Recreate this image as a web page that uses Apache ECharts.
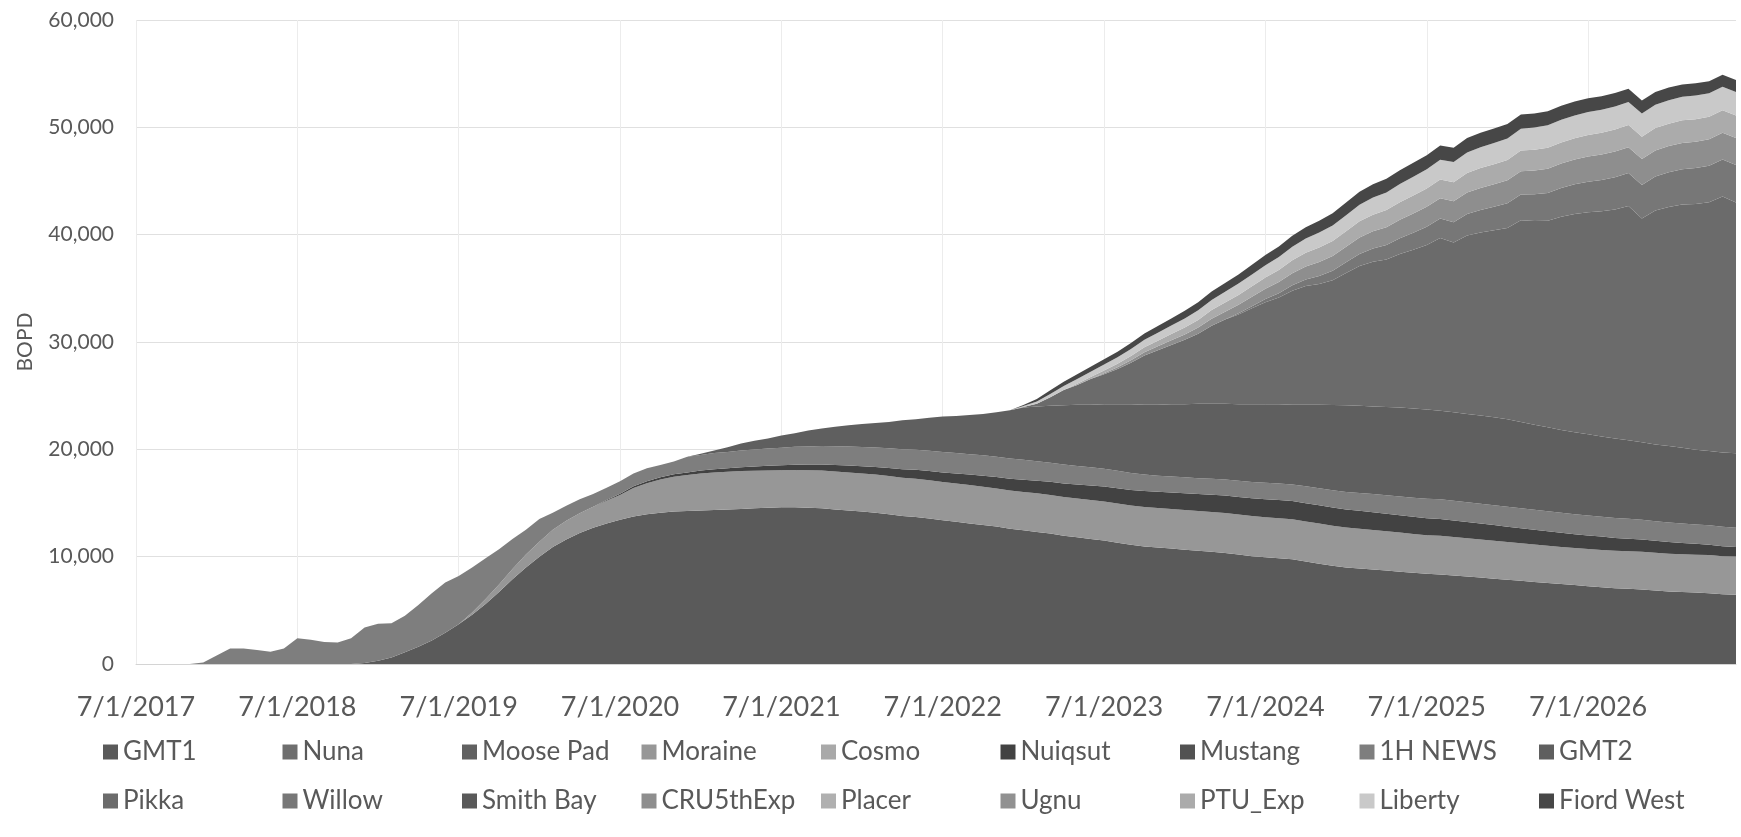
<!DOCTYPE html>
<html>
<head>
<meta charset="utf-8">
<title>BOPD by field</title>
<script src="https://cdn.jsdelivr.net/npm/echarts@6/dist/echarts.min.js"></script>
<style>
  html, body { margin: 0; padding: 0; background: #ffffff; }
  #chart { width: 1741px; height: 837px; }
</style>
</head>
<body>
<div id="chart"></div>
<script>
// Monthly categories: 7/1/2017 through 6/1/2027
const startYear = 2017;
const startMonth = 7;
const monthCount = 120;
const months = [];
for (let i = 0; i < monthCount; i++) {
  const m = startMonth - 1 + i;
  months.push(((m % 12) + 1) + '/1/' + (startYear + Math.floor(m / 12)));
}

// Axis ticks
const yTicks = [0, 10000, 20000, 30000, 40000, 50000, 60000];

// Production by field, BOPD (one row per year, July..June)
const gmt1 = [
  0,0,0,0,0,0,0,0,0,0,0,0,
  0,0,0,0,0,100,300,600,1100,1600,2200,2900,
  3700,4600,5600,6700,7900,9000,10000,10900,11600,12200,12700,13100,
  13450,13750,13950,14100,14200,14250,14300,14350,14400,14450,14500,14550,
  14600,14600,14550,14500,14400,14300,14200,14100,13950,13800,13700,13550,
  13400,13250,13100,12950,12800,12600,12450,12300,12150,11950,11800,11650,
  11500,11300,11100,10950,10850,10750,10650,10550,10450,10350,10200,10050,
  9950,9850,9750,9550,9350,9150,9000,8900,8800,8700,8600,8500,
  8400,8350,8250,8150,8050,7950,7850,7750,7650,7550,7450,7350,
  7250,7150,7050,7000,6950,6850,6750,6700,6650,6600,6500,6450
];
const nuna = [];
const moosePad = [];
const moraine = [
  0,0,0,0,0,0,0,0,0,0,0,0,
  0,0,0,0,0,0,0,0,0,0,0,0,
  0,200,450,700,950,1200,1400,1600,1750,1850,1950,2100,
  2300,2650,2900,3100,3250,3350,3450,3500,3500,3520,3500,3480,
  3450,3470,3500,3520,3540,3550,3550,3550,3560,3560,3570,3560,
  3550,3560,3570,3570,3560,3560,3580,3600,3600,3610,3620,3630,
  3650,3660,3660,3670,3680,3690,3700,3700,3710,3720,3720,3730,
  3730,3730,3730,3730,3730,3720,3710,3700,3680,3660,3640,3620,
  3600,3590,3580,3560,3550,3540,3520,3500,3480,3470,3460,3460,
  3470,3480,3490,3500,3500,3510,3520,3530,3540,3550,3550,3560
];
const cosmo = [];
const nuiqsut = [
  0,0,0,0,0,0,0,0,0,0,0,0,
  0,0,0,0,0,0,0,0,0,0,0,0,
  0,0,0,0,0,0,0,0,0,0,0,80,
  120,150,180,200,220,250,280,300,330,370,400,440,
  470,500,530,560,600,640,670,700,740,780,820,860,
  900,940,980,1020,1060,1100,1140,1180,1220,1260,1300,1340,
  1380,1420,1460,1500,1520,1540,1560,1580,1600,1620,1640,1660,
  1680,1690,1700,1700,1700,1700,1690,1680,1660,1640,1620,1600,
  1580,1560,1540,1510,1480,1450,1420,1400,1370,1340,1320,1290,
  1260,1240,1210,1180,1150,1120,1090,1050,1010,970,930,880
];
const mustang = [];
const news1H = [
  0,0,0,0,0,150,800,1450,1450,1300,1150,1450,
  2400,2250,2050,2000,2400,3300,3450,3200,3400,3900,4400,4700,
  4500,4200,3800,3300,2800,2300,2100,1600,1400,1300,1200,1150,
  1150,1200,1200,1150,1200,1450,1450,1500,1520,1550,1580,1600,
  1630,1660,1690,1720,1750,1780,1800,1820,1840,1860,1880,1890,
  1900,1900,1900,1900,1900,1880,1850,1820,1790,1760,1730,1700,
  1670,1630,1580,1530,1500,1490,1480,1480,1490,1500,1510,1520,
  1530,1540,1550,1570,1590,1610,1630,1660,1690,1720,1750,1780,
  1810,1840,1850,1860,1860,1860,1860,1860,1860,1860,1860,1860,
  1860,1860,1850,1850,1840,1830,1820,1810,1800,1800,1800,1810
];
const gmt2 = [
  0,0,0,0,0,0,0,0,0,0,0,0,
  0,0,0,0,0,0,0,0,0,0,0,0,
  0,0,0,0,0,0,0,0,0,0,0,0,
  0,0,0,0,0,0,120,250,450,660,820,930,
  1150,1270,1480,1650,1810,1980,2130,2280,2460,2700,2830,3090,
  3300,3450,3650,3860,4130,4510,4880,5100,5290,5520,5700,5830,
  6000,6190,6400,6500,6600,6730,6810,6940,7000,7060,7130,7240,
  7310,7390,7420,7600,7780,7950,8070,8110,8170,8230,8290,8300,
  8310,8260,8230,8220,8210,8200,8150,8040,7940,7830,7710,7640,
  7560,7470,7400,7320,7210,7140,7120,7060,6950,6930,6920,6930
];
const pikka = [
  0,0,0,0,0,0,0,0,0,0,0,0,
  0,0,0,0,0,0,0,0,0,0,0,0,
  0,0,0,0,0,0,0,0,0,0,0,0,
  0,0,0,0,0,0,0,0,0,0,0,0,
  0,0,0,0,0,0,0,0,0,0,0,0,
  0,0,0,0,0,0,50,250,800,1420,1850,2410,
  2800,3280,3870,4600,5080,5530,6000,6520,7270,7850,8370,8940,
  9510,9940,10630,11060,11260,11630,12320,13040,13470,13730,14290,14790,
  15340,16100,15810,16630,17050,17410,17830,18800,18970,19240,19860,20330,
  20700,20980,21350,21830,20860,21790,22270,22650,22900,23160,23850,23370
];
const willow = [
  0,0,0,0,0,0,0,0,0,0,0,0,
  0,0,0,0,0,0,0,0,0,0,0,0,
  0,0,0,0,0,0,0,0,0,0,0,0,
  0,0,0,0,0,0,0,0,0,0,0,0,
  0,0,0,0,0,0,0,0,0,0,0,0,
  0,0,0,0,0,0,0,0,0,0,0,0,
  0,0,0,0,0,0,0,0,0,0,100,200,
  300,400,500,620,750,870,1000,1120,1240,1360,1480,1600,
  1700,1800,1900,2000,2100,2200,2300,2400,2500,2600,2680,2760,
  2840,2920,3000,3060,3120,3180,3240,3300,3350,3400,3450,3500
];
const smithBay = [];
const cru5thExp = [
  0,0,0,0,0,0,0,0,0,0,0,0,
  0,0,0,0,0,0,0,0,0,0,0,0,
  0,0,0,0,0,0,0,0,0,0,0,0,
  0,0,0,0,0,0,0,0,0,0,0,0,
  0,0,0,0,0,0,0,0,0,0,0,0,
  0,0,0,0,0,0,0,0,0,0,0,0,
  100,170,230,300,370,430,500,570,650,720,800,870,
  950,1040,1130,1210,1300,1380,1450,1530,1600,1660,1720,1790,
  1850,1900,1950,2000,2050,2090,2130,2170,2210,2250,2280,2310,
  2340,2370,2400,2410,2420,2430,2440,2450,2460,2470,2490,2500
];
const placer = [];
const ugnu = [];
const ptuExp = [
  0,0,0,0,0,0,0,0,0,0,0,0,
  0,0,0,0,0,0,0,0,0,0,0,0,
  0,0,0,0,0,0,0,0,0,0,0,0,
  0,0,0,0,0,0,0,0,0,0,0,0,
  0,0,0,0,0,0,0,0,0,0,0,0,
  0,0,0,0,0,0,0,0,0,0,100,170,
  250,320,390,450,520,580,650,720,800,860,920,990,
  1050,1130,1200,1270,1350,1400,1450,1500,1550,1590,1630,1670,
  1700,1740,1780,1810,1850,1870,1890,1910,1930,1950,1970,1990,
  2010,2030,2050,2060,2070,2080,2090,2100,2100,2100,2100,2100
];
const liberty = [
  0,0,0,0,0,0,0,0,0,0,0,0,
  0,0,0,0,0,0,0,0,0,0,0,0,
  0,0,0,0,0,0,0,0,0,0,0,0,
  0,0,0,0,0,0,0,0,0,0,0,0,
  0,0,0,0,0,0,0,0,0,0,0,0,
  0,0,0,0,0,0,80,200,300,380,450,500,
  550,600,650,700,750,800,850,900,950,1000,1050,1100,
  1150,1210,1270,1330,1390,1450,1500,1550,1600,1650,1700,1750,
  1800,1840,1880,1920,1950,1980,2010,2040,2070,2100,2110,2120,
  2130,2140,2150,2160,2170,2180,2190,2200,2200,2200,2200,2200
];
const fiordWest = [
  0,0,0,0,0,0,0,0,0,0,0,0,
  0,0,0,0,0,0,0,0,0,0,0,0,
  0,0,0,0,0,0,0,0,0,0,0,0,
  0,0,0,0,0,0,0,0,0,0,0,0,
  0,0,0,0,0,0,0,0,0,0,0,0,
  0,0,0,0,0,0,100,250,350,400,450,470,
  500,530,560,600,630,660,700,740,780,820,860,900,
  940,980,1020,1060,1100,1140,1180,1210,1240,1260,1280,1300,
  1310,1320,1330,1340,1350,1350,1340,1330,1320,1310,1300,1290,
  1280,1260,1250,1230,1210,1190,1170,1150,1140,1120,1110,1100
];

// Stack order, bottom to top
const fieldNames = ['GMT1', 'Nuna', 'Moose Pad', 'Moraine', 'Cosmo', 'Nuiqsut', 'Mustang', '1H NEWS', 'GMT2',
                    'Pikka', 'Willow', 'Smith Bay', 'CRU5thExp', 'Placer', 'Ugnu', 'PTU_Exp', 'Liberty', 'Fiord West'];
const fieldData = [gmt1, nuna, moosePad, moraine, cosmo, nuiqsut, mustang, news1H, gmt2,
                   pikka, willow, smithBay, cru5thExp, placer, ugnu, ptuExp, liberty, fiordWest];
const fieldColors = ['#5a5a5a', '#6e6e6e', '#616161', '#979797', '#a9a9a9', '#424242', '#525252', '#7e7e7e', '#5f5f5f',
                     '#6b6b6b', '#777777', '#595959', '#8e8e8e', '#b0b0b0', '#919191', '#ababab', '#c9c9c9', '#474747'];

const FONT = 'Lato, "Open Sans", sans-serif';
const TEXT = '#595959';

const series = fieldNames.map((name, i) => ({
  name: name,
  type: 'line',
  stack: 'total',
  data: fieldData[i],
  symbol: 'none',
  showSymbol: false,
  lineStyle: { width: 0 },
  itemStyle: { color: fieldColors[i] },
  areaStyle: { color: fieldColors[i], opacity: 1 },
  emphasis: { disabled: true },
  silent: true
}));

const legendBase = {
  orient: 'horizontal',
  left: 103,
  padding: 0,
  icon: 'rect',
  itemWidth: 15,
  itemHeight: 15,
  itemGap: 9.5,
  selectedMode: false,
  textStyle: { fontFamily: FONT, fontSize: 26, color: TEXT, width: 150, lineHeight: 30 }
};

const chart = echarts.init(document.getElementById('chart'), null, { renderer: 'canvas' });
chart.setOption({
  animation: false,
  backgroundColor: '#ffffff',
  grid: { left: 136, right: 5, top: 20, bottom: 173, containLabel: false },
  legend: [
    Object.assign({}, legendBase, { top: 737, data: fieldNames.slice(0, 9) }),
    Object.assign({}, legendBase, { top: 786, data: fieldNames.slice(9) })
  ],
  xAxis: {
    type: 'category',
    data: months,
    boundaryGap: false,
    axisLine: { show: true, lineStyle: { color: '#d4d4d4', width: 1 } },
    axisTick: { show: false },
    axisLabel: { interval: 11, margin: 28, fontFamily: FONT, fontSize: 27, color: TEXT, lineHeight: 30 },
    splitLine: { show: true, interval: 11, lineStyle: { color: '#ececec', width: 1 } }
  },
  yAxis: {
    type: 'value',
    min: yTicks[0],
    max: yTicks[yTicks.length - 1],
    interval: yTicks[1] - yTicks[0],
    name: 'BOPD',
    nameLocation: 'middle',
    nameRotate: 90,
    nameGap: 100,
    nameTextStyle: { fontFamily: FONT, fontSize: 21, color: TEXT },
    axisLine: { show: false },
    axisTick: { show: false },
    axisLabel: {
      margin: 22,
      fontFamily: FONT,
      fontSize: 21,
      color: TEXT,
      formatter: v => v.toLocaleString('en-US')
    },
    splitLine: { show: true, lineStyle: { color: '#e0e0e0', width: 1 } }
  },
  series: series
});
</script>
</body>
</html>
